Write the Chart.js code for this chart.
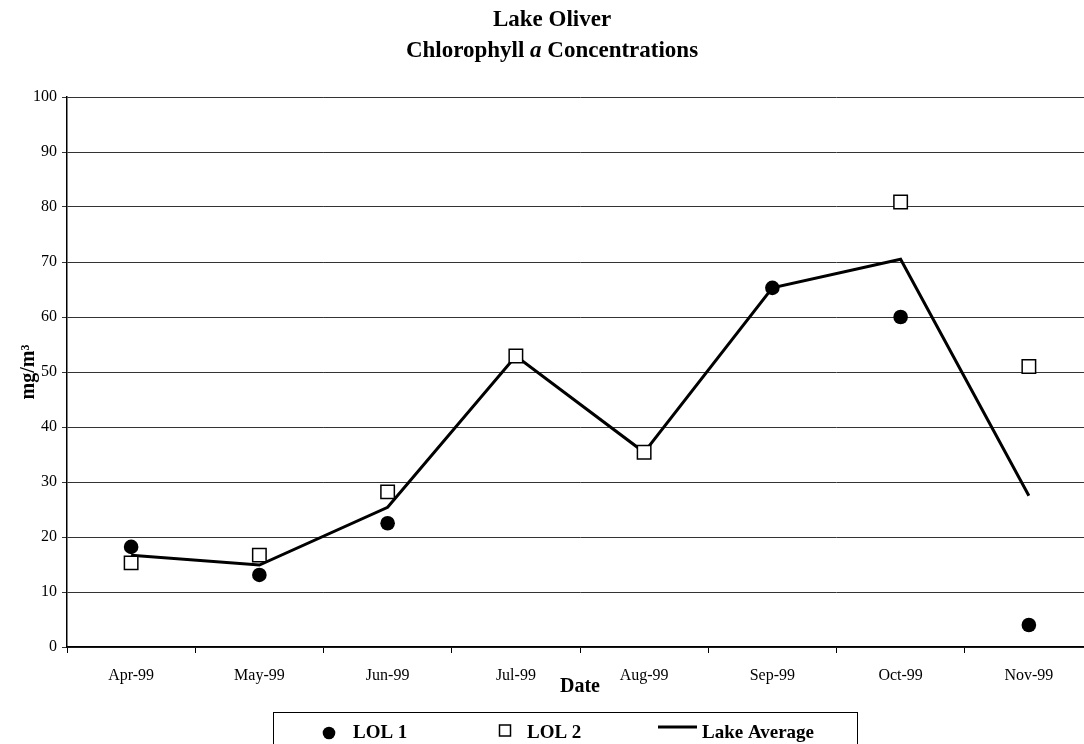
<!DOCTYPE html>
<html>
<head>
<meta charset="utf-8">
<script src="https://cdn.jsdelivr.net/npm/chart.js@4/dist/chart.umd.min.js"></script>
<style>
  html, body { margin: 0; padding: 0; overflow: hidden; background: #fff; }
  #wrap { width: 1104px; height: 770px; position: relative; }
</style>
</head>
<body>
<div id="wrap"><canvas id="chart"></canvas></div>
<script>
// data
const months = ['Apr-99', 'May-99', 'Jun-99', 'Jul-99', 'Aug-99', 'Sep-99', 'Oct-99', 'Nov-99'];
const lol1 = [18.2, 13.1, 22.5, null, null, 65.3, 60.0, 4.0];
const lol2 = [15.3, 16.7, 28.2, 52.9, 35.4, null, 80.9, 51.0];
const lakeAvg = [16.7, 14.9, 25.4, 52.9, 35.4, 65.3, 70.5, 27.5];
const yMin = 0, yMax = 100, yStep = 10;

const SERIF = "'Liberation Serif', 'Times New Roman', serif";

// two line title, with an italic "a"
const titlePlugin = {
  id: 'twoLineTitle',
  afterDraw(chart) {
    const ctx = chart.ctx;
    const cx = 552;
    ctx.save();
    ctx.fillStyle = '#000';
    ctx.textBaseline = 'middle';
    ctx.textAlign = 'left';
    const bold = 'bold 23px ' + SERIF;
    const boldIt = 'italic bold 23px ' + SERIF;
    ctx.font = bold;
    let w = ctx.measureText('Lake Oliver').width;
    ctx.fillText('Lake Oliver', cx - w / 2, 20);

    const parts = [['Chlorophyll ', bold], ['a', boldIt], [' Concentrations', bold]];
    let total = 0;
    parts.forEach(p => { ctx.font = p[1]; total += ctx.measureText(p[0]).width; });
    let x = cx - total / 2;
    parts.forEach(p => {
      ctx.font = p[1];
      ctx.fillText(p[0], x, 51);
      x += ctx.measureText(p[0]).width;
    });
    ctx.restore();
  }
};

// boxed legend under the axis
const boxLegend = {
  id: 'boxLegend',
  afterDraw(chart) {
    const ctx = chart.ctx;
    const y = 733;
    const markX = [329, 505, 678];
    const textX = [353, 527, 702];
    ctx.save();
    ctx.strokeStyle = '#000';
    ctx.lineWidth = 1;
    ctx.strokeRect(273.5, 712.5, 584, 50);

    chart.data.datasets.forEach((ds, i) => {
      ctx.fillStyle = '#000';
      ctx.strokeStyle = '#000';
      if (ds.pointStyle === 'circle') {
        ctx.beginPath();
        ctx.arc(markX[i], y, 6.3, 0, Math.PI * 2);
        ctx.fill();
      } else if (ds.pointStyle === 'rect') {
        ctx.lineWidth = 1.5;
        ctx.fillStyle = '#fff';
        ctx.fillRect(markX[i] - 5.5, y - 8, 11, 11);
        ctx.strokeRect(markX[i] - 5.5, y - 8, 11, 11);
      } else {
        ctx.lineWidth = 3;
        ctx.beginPath();
        ctx.moveTo(markX[i] - 20, y - 6);
        ctx.lineTo(markX[i] + 19, y - 6);
        ctx.stroke();
      }
      ctx.fillStyle = '#000';
      ctx.font = 'bold 19px ' + SERIF;
      ctx.textBaseline = 'middle';
      ctx.fillText(ds.label, textX[i], y);
    });
    ctx.restore();
  }
};

new Chart(document.getElementById('chart'), {
  type: 'line',
  data: {
    labels: months,
    datasets: [
      {
        label: 'LOL 1',
        data: lol1,
        showLine: false,
        pointStyle: 'circle',
        pointRadius: 7.3,
        pointBackgroundColor: '#000',
        pointBorderColor: '#000',
        pointBorderWidth: 0
      },
      {
        label: 'LOL 2',
        data: lol2,
        showLine: false,
        pointStyle: 'rect',
        pointRadius: 9.5,
        pointBackgroundColor: '#fff',
        pointBorderColor: '#000',
        pointBorderWidth: 1.5
      },
      {
        label: 'Lake Average',
        data: lakeAvg,
        borderColor: '#000',
        borderWidth: 3,
        pointRadius: 0,
        tension: 0,
        fill: false
      }
    ]
  },
  options: {
    responsive: true,
    maintainAspectRatio: false,
    animation: false,
    layout: { padding: { left: 0, right: 8, top: 97, bottom: 76 } },
    plugins: {
      legend: { display: false },
      title: { display: false },
      tooltip: { enabled: false }
    },
    scales: {
      x: {
        offset: true,
        afterFit(scale) { scale.height = 47; },
        grid: {
          offset: true,
          drawOnChartArea: false,
          drawTicks: true,
          tickLength: 6,
          color: '#000'
        },
        border: { display: true, color: '#000', width: 1.5 },
        ticks: {
          color: '#000',
          padding: 13,
          maxRotation: 0,
          font: { family: SERIF, size: 16 }
        },
        title: {
          display: true,
          text: 'Date',
          color: '#000',
          padding: { top: 0, bottom: -5 },
          font: { family: SERIF, size: 20, weight: 'bold' }
        }
      },
      y: {
        min: yMin,
        max: yMax,
        afterFit(scale) { scale.width = 67; },
        grid: {
          color: '#333',
          lineWidth: 1,
          tickLength: 5,
          drawTicks: true
        },
        border: { display: true, color: '#000', width: 1.5 },
        ticks: {
          stepSize: yStep,
          color: '#000',
          padding: 5,
          font: { family: SERIF, size: 16 }
        },
        title: {
          display: true,
          text: 'mg/m³',
          color: '#000',
          padding: { top: 17, bottom: 0 },
          font: { family: SERIF, size: 20, weight: 'bold' }
        }
      }
    }
  },
  plugins: [titlePlugin, boxLegend]
});
</script>
</body>
</html>
